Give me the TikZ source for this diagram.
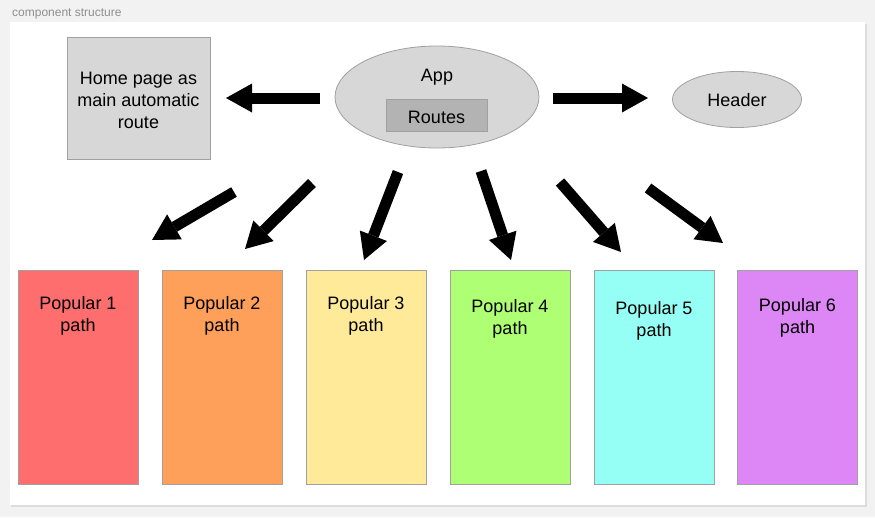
\documentclass[tikz,border=0pt]{standalone}
\usepackage{fontspec}
\setmainfont{Liberation Sans}
\usetikzlibrary{arrows.meta,shapes.geometric}
\definecolor{outerbg}{HTML}{F2F2F2}
\definecolor{shadowc}{HTML}{DCDCDC}
\definecolor{titlec}{HTML}{8E8E8E}
\definecolor{edgec}{HTML}{A0A0A0}
\definecolor{greyfill}{HTML}{D7D7D7}
\definecolor{routesfill}{HTML}{B3B3B3}
\definecolor{pA}{HTML}{FF6E6E}
\definecolor{pB}{HTML}{FFA05A}
\definecolor{pC}{HTML}{FFEA9A}
\definecolor{pD}{HTML}{AEFF74}
\definecolor{pE}{HTML}{96FFF5}
\definecolor{pF}{HTML}{DC87F5}
\tikzset{
  txt/.style={font=\fontsize{18}{22}\selectfont, text=black, align=center, inner sep=0pt},
  greybox/.style={draw=edgec, line width=0.8pt, fill=greyfill, inner sep=0pt},
  greyell/.style={ellipse, draw=edgec, line width=0.8pt, fill=greyfill, inner sep=0pt},
  popbox/.style={draw=edgec, line width=0.8pt, inner sep=0pt, minimum width=120pt, minimum height=214pt},
  bigarrow/.style={line width=11pt, -{Triangle[length=26pt,width=29pt,line width=0pt]}, black}
}
\begin{document}
\begin{tikzpicture}[x=1pt,y=-1pt]
\useasboundingbox (0,0) rectangle (875,517);
\fill[outerbg] (0,0) rectangle (875,517);
\fill[shadowc] (11,23.5) rectangle (866.5,506.5);
\fill[white] (10,22) rectangle (865,505);
\node[anchor=base west, font=\fontsize{12}{14}\selectfont, text=titlec, inner sep=0pt] (title) at (12,16) {component structure};

% top row
\node[greybox, minimum width=143pt, minimum height=122pt] (home) at (138.5,98) {};
\node[txt] (hometxt) at (138.5,100.5) {Home page as\\main automatic\\route};
\node[greyell, minimum width=204pt, minimum height=102pt] (app) at (437,97) {};
\node[txt] (apptxt) at (437,77) {App};
\node[draw=edgec, line width=0.8pt, fill=routesfill, inner sep=0pt, minimum width=101pt, minimum height=32pt] (routes) at (436.5,115) {};
\node[txt] (routestxt) at (436.5,117) {Routes};
\node[greyell, minimum width=129pt, minimum height=56pt] (header) at (737,99.5) {};
\node[txt] (headertxt) at (737,100) {Header};

% popular boxes
\node[popbox, fill=pA] (p1) at (78,377) {};
\node[popbox, fill=pB] (p2) at (222,377) {};
\node[popbox, fill=pC] (p3) at (366,377) {};
\node[popbox, fill=pD] (p4) at (510,377) {};
\node[popbox, fill=pE] (p5) at (654,377) {};
\node[popbox, fill=pF] (p6) at (797.5,377) {};
\node[txt] (t1) at (78,316) {Popular 1\\path};
\node[txt] (t2) at (222,315.5) {Popular 2\\path};
\node[txt] (t3) at (366,316) {Popular 3\\path};
\node[txt] (t4) at (510,318.5) {Popular 4\\path};
\node[txt] (t5) at (654,321) {Popular 5\\path};
\node[txt] (t6) at (797.5,318) {Popular 6\\path};

% arrow end points
\coordinate (aL) at (320,98);   \coordinate (bL) at (226,98);
\coordinate (aR) at (553,98);   \coordinate (bR) at (648,98);
\coordinate (a1) at (234,192);  \coordinate (b1) at (152,240);
\coordinate (a2) at (312,183);  \coordinate (b2) at (245,249);
\coordinate (a3) at (398,172);  \coordinate (b3) at (364,260);
\coordinate (a4) at (481,171);  \coordinate (b4) at (511,260);
\coordinate (a5) at (560,182);  \coordinate (b5) at (621,252);
\coordinate (a6) at (648,188);  \coordinate (b6) at (723,243);

\draw[bigarrow] (aL) -- (bL);
\draw[bigarrow] (aR) -- (bR);
\draw[bigarrow] (a1) -- (b1);
\draw[bigarrow] (a2) -- (b2);
\draw[bigarrow] (a3) -- (b3);
\draw[bigarrow] (a4) -- (b4);
\draw[bigarrow] (a5) -- (b5);
\draw[bigarrow] (a6) -- (b6);
\end{tikzpicture}
\end{document}
